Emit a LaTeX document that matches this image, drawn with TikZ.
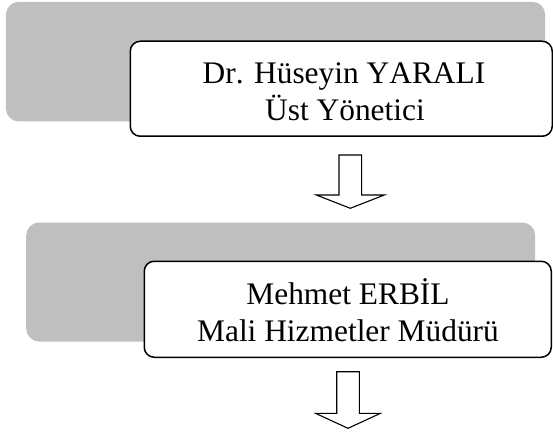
\documentclass[tikz,border=0pt]{standalone}
\usepackage{fontspec}
\setmainfont{Liberation Serif}[Kerning=Off]
\usetikzlibrary{calc}
\definecolor{boxgray}{RGB}{191,191,191}
\begin{document}
\begin{tikzpicture}[x=1pt,y=1pt,
  back/.style={fill=boxgray, draw=none, rounded corners=13pt, inner sep=0pt, anchor=south west},
  front/.style={fill=white, draw=black, line width=1.5pt, rounded corners=10pt, inner sep=0pt, anchor=south west},
  label/.style={font=\fontsize{31.4}{36.7}\selectfont, inner sep=0pt, anchor=base},
  blockarrow/.style={draw=black, fill=white, line width=1.1pt, line join=miter}]
\useasboundingbox (0,0) rectangle (553,434);
% top group
\node[back, minimum width=539.3pt, minimum height=119.7pt] (g1) at (5.7,312.3) {};
\node[front, minimum width=422pt, minimum height=95pt] (w1) at (129.5,297) {};
\node[label] (t1a) at (344,350.7) {Dr. Hüseyin YARALI};
\node[label] (t1b) at (345,313.6) {Üst Yönetici};
% arrow 1
\coordinate (a1) at (350.3,279);
\draw[blockarrow] ($(a1)+(-11.3,0)$) -- ($(a1)+(-11.3,-40)$) -- ($(a1)+(-34,-40)$)
  -- ($(a1)+(0,-53.3)$) -- ($(a1)+(34,-40)$) -- ($(a1)+(11.3,-40)$) -- ($(a1)+(11.3,0)$) -- cycle;
% bottom group
\node[back, minimum width=509pt, minimum height=119pt] (g2) at (26,92.3) {};
\node[front, minimum width=407pt, minimum height=96pt] (w2) at (143.5,76) {};
\node[label] (t2a) at (348,129.7) {Mehmet ERBİL};
\node[label] (t2b) at (348,93) {Mali Hizmetler Müdürü};
% arrow 2
\coordinate (a2) at (348,62.3);
\draw[blockarrow] ($(a2)+(-11.3,0)$) -- ($(a2)+(-11.3,-41.6)$) -- ($(a2)+(-32.5,-41.6)$)
  -- ($(a2)+(0,-56.6)$) -- ($(a2)+(32.5,-41.6)$) -- ($(a2)+(11.3,-41.6)$) -- ($(a2)+(11.3,0)$) -- cycle;
\end{tikzpicture}
\end{document}
